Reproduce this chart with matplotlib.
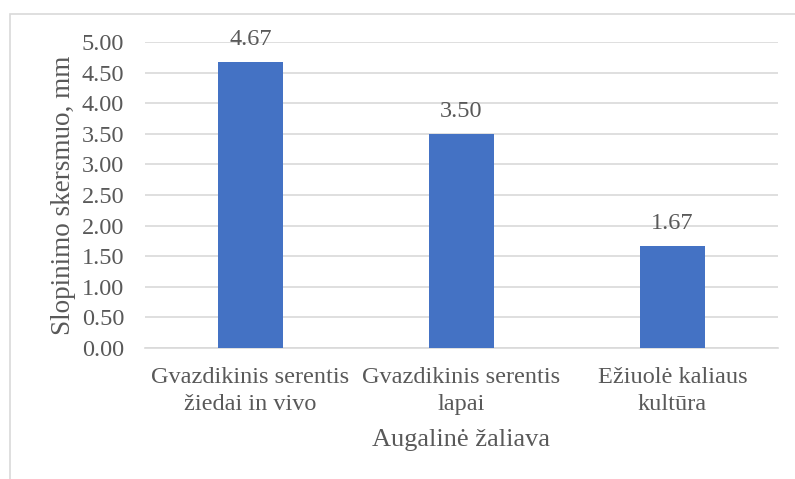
import matplotlib.pyplot as plt
from matplotlib.patches import Rectangle

categories = ["Gvazdikinis serentis\nžiedai in vivo",
              "Gvazdikinis serentis\nlapai",
              "Ežiuolė kaliaus\nkultūra"]
values = [4.67, 3.50, 1.67]
yticks = [0.0, 0.5, 1.0, 1.5, 2.0, 2.5, 3.0, 3.5, 4.0, 4.5, 5.0]

plt.rcParams['font.family'] = ['Liberation Serif', 'DejaVu Serif']
grey = '#595959'

fig = plt.figure(figsize=(7.95, 4.79), dpi=100)
W, H = 795, 479
ax = fig.add_axes([145 / W, 1 - 348 / H, (778 - 145) / W, (348 - 42) / H])

x = list(range(len(categories)))
bars = ax.bar(x, values, width=0.31, color='#4472C4', zorder=3)
for b, v in zip(bars, values):
    ax.text(b.get_x() + b.get_width() / 2, v + 0.2, f"{v:.2f}",
            ha='center', va='bottom', fontsize=17.5, color=grey)

ax.set_xlim(-0.5, 2.5)
ax.set_ylim(0, 5)
ax.set_yticks(yticks)
ax.set_yticklabels([f"{t:.2f}" for t in yticks])
ax.set_xticks(x)
ax.set_xticklabels(categories, linespacing=1.35)
ax.tick_params(axis='both', length=0, labelsize=17.5, colors=grey)
ax.tick_params(axis='y', pad=15)
ax.tick_params(axis='x', pad=14)
ax.yaxis.grid(True, color='#D9D9D9', linewidth=1.2, zorder=0)
for s in ['top', 'right', 'left']:
    ax.spines[s].set_visible(False)
ax.spines['bottom'].set_color('#D9D9D9')
ax.spines['bottom'].set_linewidth(1.2)

ax.set_ylabel("Slopinimo skersmuo, mm", fontsize=19.5, color=grey, labelpad=4)
ax.set_xlabel("Augalinė žaliava", fontsize=19, color=grey, labelpad=10)

fig.patches.append(Rectangle((10 / W, -0.1), 1.1, 1.1 - 14 / H,
                             transform=fig.transFigure, fill=False,
                             edgecolor='#D9D9D9', linewidth=1.2))

fig.savefig("out.png", dpi=100)
